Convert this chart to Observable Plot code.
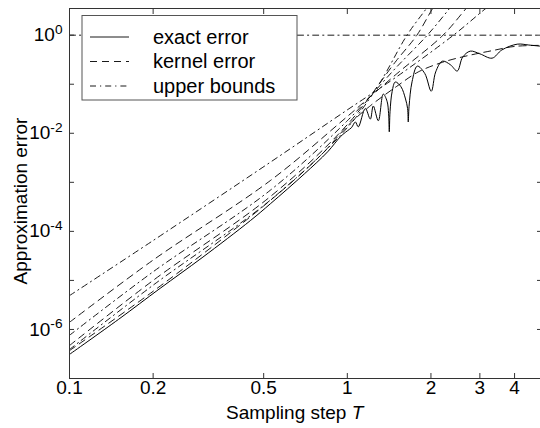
<!DOCTYPE html>
<html><head><meta charset="utf-8">
<script src="https://cdn.jsdelivr.net/npm/d3@7"></script>
<script src="https://cdn.jsdelivr.net/npm/@observablehq/plot@0.6"></script>
<style>body{margin:0;background:#fff} svg{display:block}</style>
</head><body><div id="chart"></div>
<script>
// exact error (solid)
const exactT   = [0.1, 0.15, 0.212, 0.3, 0.448, 0.53, 0.7, 0.85, 0.944, 1.0, 1.035, 1.069, 1.095, 1.161, 1.21, 1.24, 1.293, 1.347, 1.39, 1.408, 1.416, 1.425, 1.45, 1.488, 1.56, 1.62, 1.648, 1.657, 1.668, 1.71, 1.786, 1.9, 2.005, 2.08, 2.197, 2.35, 2.487, 2.6, 2.77, 3.0, 3.32, 3.6, 4.09, 4.5, 4.95];
const exactErr = [3.1e-7, 1.6e-6, 6.9e-6, 2.9e-5, 1.66e-4, 3.7e-4, 1.48e-3, 4.2e-3, 8.5e-3, 1.12e-2, 1.3e-2, 1.7e-2, 1.35e-2, 3.2e-2, 1.95e-2, 3.6e-2, 1.8e-2, 6.3e-2, 4.5e-2, 2.5e-2, 1.07e-2, 2.8e-2, 7.1e-2, 0.111, 0.089, 0.05, 0.032, 0.017, 0.035, 0.112, 0.234, 0.166, 0.072, 0.178, 0.295, 0.25, 0.186, 0.355, 0.473, 0.417, 0.34, 0.5, 0.656, 0.63, 0.597];
// kernel error (dashed)
const kernelT   = [0.1, 0.2, 0.5, 0.8, 1.0, 1.2, 1.5, 1.8, 2.2, 2.7, 3.3, 4.0, 4.95];
const kernelErr = [3.7e-7, 6.0e-6, 3.3e-4, 3.5e-3, 1.4e-2, 3.5e-2, 0.089, 0.178, 0.28, 0.38, 0.48, 0.59, 0.62];
const kernelBT   = [0.1, 0.2, 0.53, 1.0, 1.5, 2.21, 2.7, 3.0];
const kernelBErr = [1.4e-6, 2.6e-5, 1.1e-3, 0.022, 0.16, 1.0, 3.7, 7];
const kernelCT   = [0.1, 0.2, 0.53, 1.0, 1.5, 1.78, 2.04, 2.3];
const kernelCErr = [4.7e-7, 1.0e-5, 5.2e-4, 0.015, 0.3, 1, 3.7, 10];
// upper bounds (dash-dot)
const boundAT   = [0.1, 0.2, 0.53, 1.0, 1.5, 2.41, 3.19, 3.6];
const boundAErr = [4.9e-6, 6.5e-5, 2.6e-3, 0.03, 0.14, 1.0, 3.7, 6];
const boundBT   = [0.1, 0.2, 0.53, 1.0, 1.5, 1.94, 2.35, 2.6];
const boundBErr = [7.6e-7, 1.5e-5, 7.0e-4, 0.018, 0.22, 1, 3.7, 8];
const boundCT   = [0.1, 0.2, 0.53, 1.0, 1.3, 1.64, 1.94, 2.2];
const boundCErr = [3.9e-7, 8.0e-6, 4.4e-4, 0.013, 0.1, 1, 3.7, 10];
const boundFlatT   = [0.1, 5];
const boundFlatErr = [1, 1];

const xTicks = [0.1, 0.2, 0.5, 1, 2, 3, 4];
const yTicks = [1e-7, 1e-6, 1e-5, 1e-4, 1e-3, 1e-2, 1e-1, 1];
const yLabelTicks = [1e-6, 1e-4, 1e-2, 1];
const legendLabels = ["exact error", "kernel error", "upper bounds"];

const FONT = "'Liberation Sans', Arial, Helvetica, sans-serif";
const pts = (T, E) => T.map((t, i) => ({t, e: E[i]}));
const DASH = "7,5", DASHDOT = "6,4,1.2,4";
const lineOpts = (dash, extra = {}) => ({x: "t", y: "e", stroke: "#000", strokeWidth: 0.9, strokeDasharray: dash, curve: "catmull-rom", clip: true, ...extra});

const chart = Plot.plot({
  width: 540, height: 428,
  marginLeft: 69, marginRight: -1, marginTop: 8, marginBottom: 50,
  style: {fontFamily: FONT, background: "#fff"},
  x: {type: "log", domain: [0.1, 5]},
  y: {type: "log", domain: [1e-7, 3.5]},
  marks: [
    Plot.line(pts(boundFlatT, boundFlatErr), lineOpts(DASHDOT, {curve: "linear"})),
    Plot.line(pts(boundAT, boundAErr), lineOpts(DASHDOT)),
    Plot.line(pts(boundBT, boundBErr), lineOpts(DASHDOT)),
    Plot.line(pts(boundCT, boundCErr), lineOpts(DASHDOT)),
    Plot.line(pts(kernelBT, kernelBErr), lineOpts(DASH)),
    Plot.line(pts(kernelCT, kernelCErr), lineOpts(DASH)),
    Plot.line(pts(kernelT, kernelErr), lineOpts(DASH)),
    Plot.line(pts(exactT, exactErr), lineOpts(null, {strokeWidth: 1})),
    Plot.frame({stroke: "#333", strokeWidth: 1}),
    Plot.axisX({ticks: xTicks, tickFormat: d => String(d), tickSize: -5, tickPadding: 7, fontSize: 19, label: null, stroke: "#333"}),
    Plot.axisX({anchor: "top", ticks: xTicks, tickFormat: () => "", tickSize: -5, label: null, stroke: "#333"}),
    Plot.axisY({ticks: yTicks, tickFormat: () => "", tickSize: -5, label: null, stroke: "#333"}),
    Plot.axisY({anchor: "right", ticks: yTicks, tickFormat: () => "", tickSize: -5, label: null, stroke: "#333"}),
    Plot.axisY({ticks: yLabelTicks, tickFormat: d => "10|" + Math.round(Math.log10(d)), tickSize: 0, tickPadding: 7, fontSize: 19, label: null})
  ]
});
document.getElementById("chart").appendChild(chart);

const svg = d3.select(chart);
svg.selectAll('g[aria-label="y-axis tick label"] text').each(function() {
  const t = d3.select(this);
  const [b, e] = t.text().split("|");
  t.text(null);
  t.append("tspan").text(b);
  t.append("tspan").attr("dy", "-0.55em").attr("font-size", "0.72em").text(e);
});

// axis titles
svg.append("text").attr("x", 226).attr("y", 419).attr("font-size", 19).attr("fill", "#000")
  .attr("text-anchor", "start").attr("font-family", FONT)
  .call(t => { t.append("tspan").text("Sampling step "); t.append("tspan").attr("font-style", "italic").text("T"); });
svg.append("text").attr("transform", "translate(27,201) rotate(-90)").attr("text-anchor", "middle")
  .attr("font-size", 19).attr("fill", "#000").attr("font-family", FONT)
  .text("Approximation error");

// legend
const lg = svg.append("g");
lg.append("rect").attr("x", 82).attr("y", 15.5).attr("width", 215).attr("height", 84.5)
  .attr("fill", "#fff").attr("stroke", "#555").attr("stroke-width", 1);
const legendDash = [null, DASH, DASHDOT];
const legendY = [37, 61.5, 86];
legendLabels.forEach((s, i) => {
  lg.append("line").attr("x1", 90).attr("x2", 129).attr("y1", legendY[i]).attr("y2", legendY[i])
    .attr("stroke", "#000").attr("stroke-width", 0.9).attr("stroke-dasharray", legendDash[i]);
  lg.append("text").attr("x", 153).attr("y", legendY[i] + 6.5).attr("font-size", 20).attr("fill", "#000")
    .attr("text-anchor", "start").attr("font-family", FONT).text(s);
});
</script>
</body></html>
